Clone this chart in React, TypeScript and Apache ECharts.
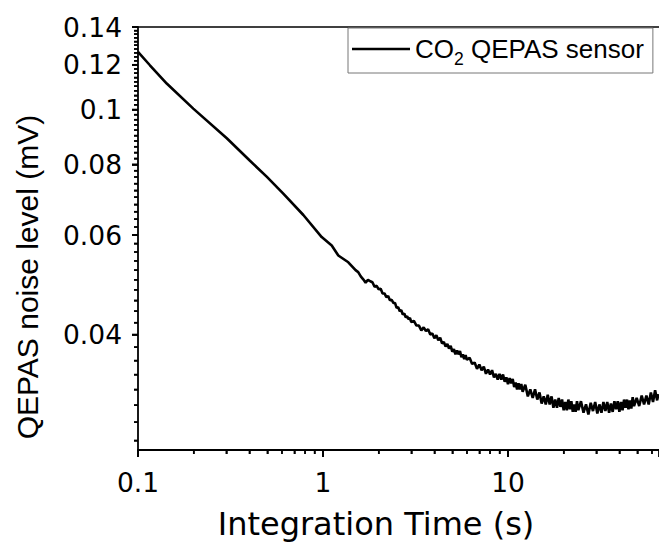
import React, { useEffect, useRef } from "react";
import * as echarts from "echarts";

// Integration time (s) and QEPAS noise level (mV)
const integrationTime = [
  0.1, 0.116, 0.143, 0.199, 0.302, 0.403, 0.496, 0.61, 0.783, 0.984, 1.115, 1.21, 1.37,
  1.5, 1.55, 1.6, 1.65, 1.7, 1.75, 1.8, 1.85, 1.9, 1.95, 2.0, 2.05, 2.1, 2.15, 2.2, 2.25,
  2.3, 2.35, 2.4, 2.45, 2.5, 2.55, 2.6, 2.65, 2.7, 2.75, 2.8, 2.85, 2.9, 2.95, 3.0,
  3.1, 3.2, 3.3, 3.4, 3.5, 3.6, 3.7, 3.8, 3.9, 4.0, 4.1, 4.2, 4.3, 4.4, 4.5, 4.6, 4.7,
  4.8, 4.9, 5.0, 5.1, 5.2, 5.3, 5.4, 5.5, 5.6, 5.7, 5.8, 5.9, 6.0,
  6.2, 6.4, 6.6, 6.8, 7.0, 7.2, 7.4, 7.6, 7.8, 8.0, 8.2, 8.4, 8.6, 8.8, 9.0, 9.2, 9.4,
  9.6, 9.8, 10.0, 10.2, 10.4, 10.6, 10.8, 11.0, 11.2, 11.4, 11.6, 11.8, 12.0,
  12.4, 12.8, 13.2, 13.6, 14.0, 14.4, 14.8, 15.2, 15.6, 16.0, 16.4, 16.8, 17.2, 17.6,
  18.0, 18.4, 18.8, 19.2, 19.6, 20.0, 20.4, 20.8, 21.2, 21.6, 22.0, 22.4, 22.8, 23.2,
  23.6, 24.0,
  24.8, 25.6, 26.4, 27.2, 28.0, 28.8, 29.6, 30.4, 31.2, 32.0, 32.8, 33.6, 34.4, 35.2,
  36.0, 36.8, 37.6, 38.4, 39.2, 40.0, 40.8, 41.6, 42.4, 43.2, 44.0, 44.8, 45.6, 46.4,
  47.2, 48.0,
  49.6, 51.2, 52.8, 54.4, 56.0, 57.6, 59.2, 60.8, 62.4, 64.0, 65.0,
];

const noiseLevel = [
  0.1265, 0.1198, 0.1112, 0.1004, 0.089, 0.0812, 0.0761, 0.071, 0.0651, 0.0595, 0.0575, 0.0552, 0.0537,
  0.052, 0.0516, 0.0507, 0.0501, 0.0494, 0.05, 0.0497, 0.0495, 0.0486, 0.0488, 0.0481, 0.0482,
  0.0473, 0.0473, 0.0466, 0.0468, 0.046, 0.0461, 0.0455, 0.0455, 0.0446, 0.0447, 0.044, 0.0442,
  0.0434, 0.0436, 0.0429, 0.0431, 0.0426, 0.0428, 0.0421,
  0.0423, 0.0415, 0.0415, 0.0407, 0.0412, 0.0406, 0.0409, 0.04, 0.0402, 0.0394,
  0.0399, 0.0391, 0.0395, 0.0386, 0.0388, 0.0381, 0.0385, 0.0378, 0.0382, 0.0373,
  0.0377, 0.0369, 0.0375, 0.0369, 0.0374, 0.0365, 0.0369, 0.0362, 0.0368, 0.0361,
  0.0364, 0.0355, 0.0357, 0.0348, 0.0354, 0.0346, 0.0351, 0.0341, 0.0347, 0.034,
  0.0346, 0.0336, 0.0341, 0.0333, 0.0341, 0.0333, 0.034, 0.033, 0.0336, 0.0327,
  0.0335, 0.0328, 0.0334, 0.0323, 0.0329, 0.032, 0.0328, 0.032, 0.0327, 0.0317,
  0.0326, 0.0311, 0.032, 0.0309, 0.032, 0.0307, 0.0316, 0.0302, 0.0311, 0.0301,
  0.0313, 0.0301, 0.0311, 0.0297, 0.0307, 0.0297, 0.0309, 0.0298, 0.0307, 0.0294,
  0.0304, 0.0294, 0.0307, 0.0295, 0.0305, 0.0292, 0.0301, 0.0292, 0.0305, 0.0294,
  0.0305, 0.0291, 0.0301, 0.0289, 0.0303, 0.0293, 0.0304, 0.029, 0.0301, 0.0291,
  0.0304, 0.0293, 0.0304, 0.0291, 0.0302, 0.0292, 0.0305, 0.0295, 0.0305, 0.0292,
  0.0304, 0.0294, 0.0307, 0.0297, 0.0307, 0.0295, 0.0306, 0.0296, 0.031, 0.0299,
  0.0309, 0.0299, 0.0312, 0.0301, 0.0312, 0.0301, 0.0316, 0.0304, 0.0319, 0.0306, 0.0314,
];

const xRange = [0.1, 65.5];
const yRange = [0.025, 0.14];
const xMajorTicks = [0.1, 1, 10];
const xMinorTicks = [0.2, 0.3, 0.4, 0.5, 0.6, 0.7, 0.8, 0.9, 2, 3, 4, 5, 6, 7, 8, 9, 20, 30, 40, 50, 60];
const yMajorTicks = [0.04, 0.06, 0.08, 0.1, 0.12, 0.14];
const yMinorTicks = [
  0.026, 0.028, 0.03, 0.032, 0.034, 0.036, 0.038,
  0.042, 0.044, 0.046, 0.048, 0.05, 0.052, 0.054, 0.056, 0.058,
  0.062, 0.064, 0.066, 0.068, 0.07, 0.072, 0.074, 0.076, 0.078,
  0.082, 0.084, 0.086, 0.088, 0.09, 0.092, 0.094, 0.096, 0.098,
  0.102, 0.104, 0.106, 0.108, 0.11, 0.112, 0.114, 0.116, 0.118,
  0.122, 0.124, 0.126, 0.128, 0.13, 0.132, 0.134, 0.136, 0.138,
];
const seriesName = "CO2 QEPAS sensor";
const xTitle = "Integration Time (s)";
const yTitle = "QEPAS noise level (mV)";

const lg = (v: number) => Math.log10(v);
const fmt = (v: number) => String(Number(Math.pow(10, v).toPrecision(3)));
const black = "#000";

export default function App() {
  const ref = useRef<HTMLDivElement>(null);

  useEffect(() => {
    if (!ref.current) return;
    const chart = echarts.init(ref.current, undefined, { renderer: "svg" });
    const n = Math.min(integrationTime.length, noiseLevel.length);
    const data: number[][] = [];
    for (let i = 0; i < n; i++) data.push([lg(integrationTime[i]), lg(noiseLevel[i])]);

    const tickFont = { fontFamily: "DejaVu Sans", fontSize: 26.5, color: black };
    const xMin = lg(xRange[0]);
    const xMax = lg(xRange[1]);
    const yMin = lg(yRange[0]);
    const yMax = lg(yRange[1]);

    const titles = [
      {
        type: "text",
        x: 27,
        y: 277,
        rotation: Math.PI / 2,
        style: {
          text: yTitle,
          fontFamily: "Liberation Sans",
          fontSize: 30,
          fill: black,
          align: "center",
          verticalAlign: "middle",
        },
      },
      {
        type: "text",
        x: 376,
        y: 524,
        style: {
          text: xTitle,
          fontFamily: "DejaVu Sans",
          fontSize: 32,
          fill: black,
          align: "center",
          verticalAlign: "middle",
        },
      },
    ];

    chart.setOption({
      animation: false,
      grid: { left: 138, right: 0, top: 27, bottom: 95 },
      xAxis: [
        {
          type: "value",
          position: "bottom",
          min: xMin,
          max: xMax,
          interval: 1,
          axisLine: { show: true, onZero: false, lineStyle: { color: black, width: 1.8 } },
          axisTick: { show: true, length: 7, lineStyle: { color: black, width: 1.8 } },
          axisLabel: { show: true, customValues: xMajorTicks.map(lg), formatter: fmt, margin: 32, verticalAlign: "middle", ...tickFont },
          splitLine: { show: false },
        },
        {
          type: "value",
          position: "bottom",
          min: xMin,
          max: xMax,
          axisLine: { show: false, onZero: false },
          axisTick: { show: true, length: 4, customValues: xMinorTicks.map(lg), lineStyle: { color: black, width: 1.5 } },
          axisLabel: { show: false },
          splitLine: { show: false },
        },
        {
          type: "value",
          position: "top",
          min: xMin,
          max: xMax,
          axisLine: { show: true, onZero: false, lineStyle: { color: black, width: 1.5 } },
          axisTick: { show: false },
          axisLabel: { show: false },
          splitLine: { show: false },
        },
      ],
      yAxis: [
        {
          type: "value",
          position: "left",
          min: yMin,
          max: yMax,
          axisLine: { show: true, onZero: false, lineStyle: { color: black, width: 1.8 } },
          axisTick: { show: true, length: 6, customValues: yMajorTicks.map(lg), lineStyle: { color: black, width: 1.8 } },
          axisLabel: { show: true, customValues: yMajorTicks.map(lg), formatter: fmt, margin: 16, ...tickFont },
          splitLine: { show: false },
        },
        {
          type: "value",
          position: "left",
          min: yMin,
          max: yMax,
          axisLine: { show: false, onZero: false },
          axisTick: { show: true, length: 4, customValues: yMinorTicks.map(lg), lineStyle: { color: black, width: 1.5 } },
          axisLabel: { show: false },
          splitLine: { show: false },
        },
      ],
      legend: {
        show: true,
        left: 348,
        top: 28,
        orient: "horizontal",
        padding: [8, 9, 5, 4],
        icon: "rect",
        itemWidth: 58,
        itemHeight: 2.6,
        borderColor: "#777",
        borderWidth: 1,
        borderRadius: 0,
        backgroundColor: "#fff",
        data: [seriesName],
        formatter: () => "CO{sub|2} QEPAS sensor",
        textStyle: {
          fontFamily: "Liberation Sans",
          fontSize: 26,
          color: black,
          rich: {
            sub: { fontFamily: "Liberation Sans", fontSize: 17.5, color: black, padding: [20, 0, 0, 0] },
          },
        },
      },
      graphic: titles,
      series: [
        {
          name: seriesName,
          type: "line",
          xAxisIndex: 0,
          yAxisIndex: 0,
          data,
          showSymbol: false,
          symbol: "none",
          clip: false,
          lineStyle: { color: black, width: 2.6 },
          itemStyle: { color: black },
        },
      ],
    });

    // extra outward tick marks, placed through the grid's own scales
    const toPx = (x: number, y: number) => chart.convertToPixel({ gridIndex: 0 }, [x, y]) as number[];
    const ticks: any[] = [];
    const yTick = (v: number, len: number, w: number) => {
      const p = toPx(xMin, lg(v));
      ticks.push({ type: "line", shape: { x1: p[0] - len, y1: p[1], x2: p[0], y2: p[1] }, style: { stroke: black, lineWidth: w } });
    };
    const xTick = (v: number, len: number, w: number) => {
      const p = toPx(lg(v), yMin);
      ticks.push({ type: "line", shape: { x1: p[0], y1: p[1], x2: p[0], y2: p[1] + len }, style: { stroke: black, lineWidth: w } });
    };
    yMajorTicks.forEach((v) => yTick(v, 6, 1.8));
    yMinorTicks.forEach((v) => yTick(v, 4, 1.5));
    xMajorTicks.forEach((v) => xTick(v, 7, 1.8));
    xMinorTicks.forEach((v) => xTick(v, 4, 1.5));

    chart.setOption({ graphic: [...titles, ...ticks] });

    return () => chart.dispose();
  }, []);

  return (
    <div
      ref={ref}
      style={{ position: "absolute", left: 0, top: 0, width: 659, height: 545, background: "#fff" }}
    />
  );
}
